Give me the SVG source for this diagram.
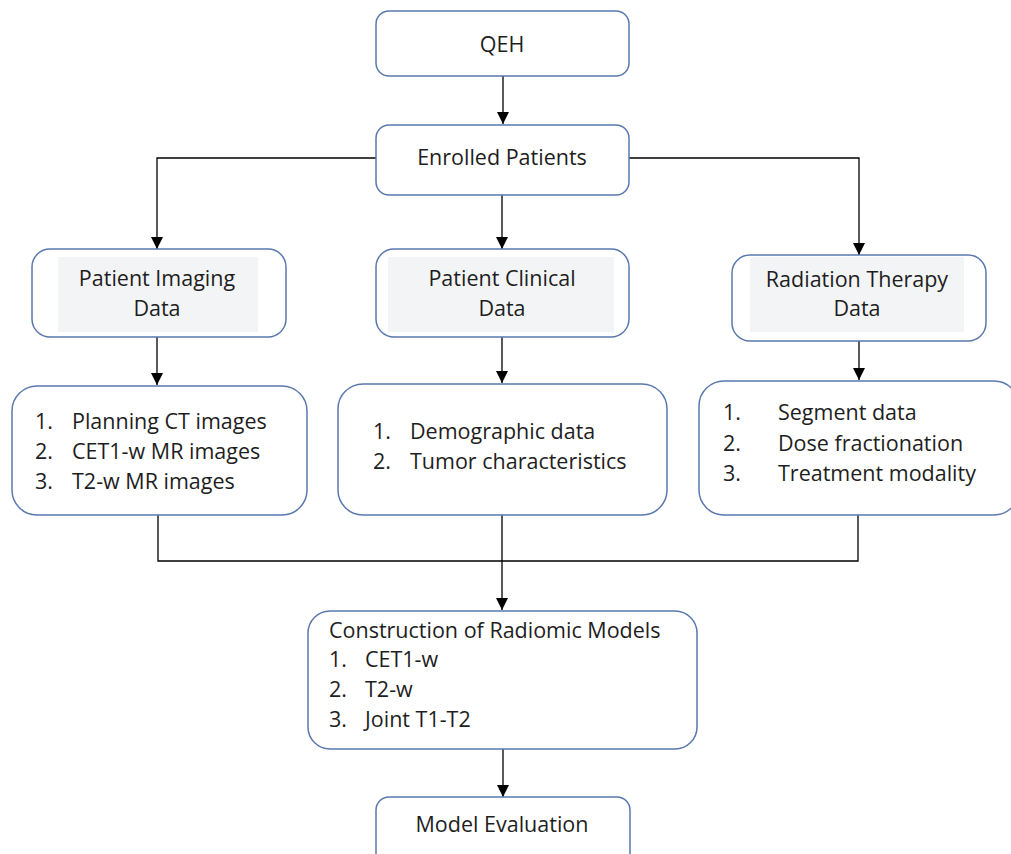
<svg xmlns="http://www.w3.org/2000/svg" width="1011" height="854" viewBox="0 0 1011 854">
  <defs>
    <marker id="arrow" viewBox="0 0 12 12" refX="12" refY="6" markerWidth="12" markerHeight="12" markerUnits="userSpaceOnUse" orient="auto">
      <path d="M0,0 L12,6 L0,12 z" fill="#000"/>
    </marker>
    <style>
      .box { fill: #fff; stroke: #5a79ae; stroke-width: 1.5; }
      .shade { fill: #f3f4f6; }
      .t { font-family: "Open Sans", "Liberation Sans", sans-serif; font-size: 21.5px; fill: #1e1e1e; }
      .c { text-anchor: middle; }
      .line { fill: none; stroke: #000; stroke-width: 1.3; }
    </style>
  </defs>
  <rect width="1011" height="854" fill="#fff"/>

  <!-- connectors -->
  <g id="connectors">
    <line class="line" x1="503" y1="76" x2="503" y2="124" marker-end="url(#arrow)"/>
    <polyline class="line" points="376,158 157,158 157,249" marker-end="url(#arrow)"/>
    <line class="line" x1="502" y1="195" x2="502" y2="249" marker-end="url(#arrow)"/>
    <polyline class="line" points="629,158 859,158 859,255" marker-end="url(#arrow)"/>
    <line class="line" x1="157" y1="337" x2="157" y2="385" marker-end="url(#arrow)"/>
    <line class="line" x1="502" y1="337" x2="502" y2="383" marker-end="url(#arrow)"/>
    <line class="line" x1="859" y1="341" x2="859" y2="380" marker-end="url(#arrow)"/>
    <polyline class="line" points="158,515 158,561 858,561 858,515"/>
    <line class="line" x1="502" y1="515" x2="502" y2="610" marker-end="url(#arrow)"/>
    <line class="line" x1="503" y1="749" x2="503" y2="797" marker-end="url(#arrow)"/>
  </g>

  <g id="qeh">
    <rect class="box" x="376" y="11" width="253" height="65" rx="13"/>
    <text class="t c" x="502" y="52">QEH</text>
  </g>

  <g id="enrolled">
    <rect class="box" x="376" y="125" width="253" height="70" rx="13"/>
    <text class="t c" x="502" y="165">Enrolled Patients</text>
  </g>

  <g id="imaging">
    <rect class="box" x="32" y="249" width="254" height="88" rx="18"/>
    <rect class="shade" x="58" y="257" width="200" height="75"/>
    <text class="t c" x="157" y="286">Patient Imaging</text>
    <text class="t c" x="157" y="316">Data</text>
  </g>

  <g id="clinical">
    <rect class="box" x="376" y="249" width="253" height="88" rx="18"/>
    <rect class="shade" x="388" y="257" width="226" height="75"/>
    <text class="t c" x="502" y="286">Patient Clinical</text>
    <text class="t c" x="502" y="316">Data</text>
  </g>

  <g id="radiation">
    <rect class="box" x="732" y="255" width="254" height="86" rx="18"/>
    <rect class="shade" x="750" y="257" width="214" height="75"/>
    <text class="t c" x="857" y="287">Radiation Therapy</text>
    <text class="t c" x="857" y="316">Data</text>
  </g>

  <g id="imaging-list">
    <rect class="box" x="12" y="386" width="295" height="129" rx="25"/>
    <text class="t" x="35" y="429">1.</text>
    <text class="t" x="72" y="429">Planning CT images</text>
    <text class="t" x="35" y="459">2.</text>
    <text class="t" x="72" y="459">CET1-w MR images</text>
    <text class="t" x="35" y="489">3.</text>
    <text class="t" x="72" y="489">T2-w MR images</text>
  </g>

  <g id="clinical-list">
    <rect class="box" x="338" y="384" width="329" height="131" rx="25"/>
    <text class="t" x="373" y="439">1.</text>
    <text class="t" x="410" y="439">Demographic data</text>
    <text class="t" x="373" y="469">2.</text>
    <text class="t" x="410" y="469">Tumor characteristics</text>
  </g>

  <g id="radiation-list">
    <rect class="box" x="699" y="381" width="320" height="134" rx="25"/>
    <text class="t" x="723" y="420">1.</text>
    <text class="t" x="778" y="420">Segment data</text>
    <text class="t" x="723" y="451">2.</text>
    <text class="t" x="778" y="451">Dose fractionation</text>
    <text class="t" x="723" y="481">3.</text>
    <text class="t" x="778" y="481">Treatment modality</text>
  </g>

  <g id="radiomic-models">
    <rect class="box" x="308" y="611" width="389" height="138" rx="22"/>
    <text class="t" x="329" y="638">Construction of Radiomic Models</text>
    <text class="t" x="329" y="667">1.</text>
    <text class="t" x="365" y="667">CET1-w</text>
    <text class="t" x="329" y="697">2.</text>
    <text class="t" x="365" y="697">T2-w</text>
    <text class="t" x="329" y="727">3.</text>
    <text class="t" x="365" y="727">Joint T1-T2</text>
  </g>

  <g id="evaluation">
    <rect class="box" x="376" y="797" width="254" height="80" rx="13"/>
    <text class="t c" x="502" y="832">Model Evaluation</text>
  </g>
</svg>
